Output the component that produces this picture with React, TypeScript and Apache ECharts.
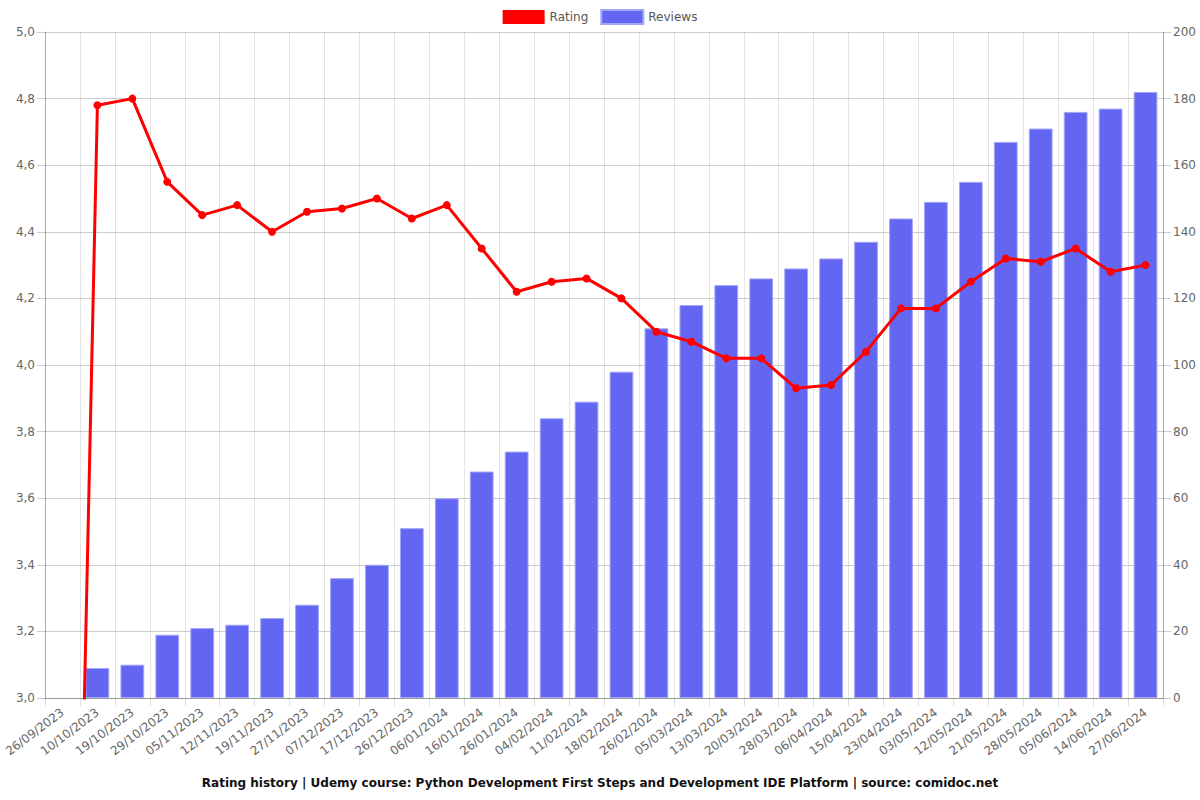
import React, { useEffect, useRef } from "react";
import * as echarts from "echarts";

const categories = [
  "26/09/2023", "10/10/2023", "19/10/2023", "29/10/2023", "05/11/2023", "12/11/2023",
  "19/11/2023", "27/11/2023", "07/12/2023", "17/12/2023", "26/12/2023", "06/01/2024",
  "16/01/2024", "26/01/2024", "04/02/2024", "11/02/2024", "18/02/2024", "26/02/2024",
  "05/03/2024", "13/03/2024", "20/03/2024", "28/03/2024", "06/04/2024", "15/04/2024",
  "23/04/2024", "03/05/2024", "12/05/2024", "21/05/2024", "28/05/2024", "05/06/2024",
  "14/06/2024", "27/06/2024",
];

const ratingValues = [
  0, 4.78, 4.8, 4.55, 4.45, 4.48, 4.4, 4.46, 4.47, 4.5, 4.44, 4.48,
  4.35, 4.22, 4.25, 4.26, 4.2, 4.1, 4.07, 4.02, 4.02, 3.93, 3.94, 4.04,
  4.17, 4.17, 4.25, 4.32, 4.31, 4.35, 4.28, 4.3,
];

const reviewValues = [
  0, 9, 10, 19, 21, 22, 24, 28, 36, 40, 51, 60,
  68, 74, 84, 89, 98, 111, 118, 124, 126, 129, 132, 137,
  144, 149, 155, 167, 171, 176, 177, 182,
];

const titleText =
  "Rating history | Udemy course: Python Development First Steps and Development IDE Platform | source: comidoc.net";

const FONT = "DejaVu Sans";

export default function App() {
  const ref = useRef<HTMLDivElement>(null);

  useEffect(() => {
    if (!ref.current) return;
    const chart = echarts.init(ref.current, null, { renderer: "svg" });
    chart.setOption({
      animation: false,
      textStyle: { fontFamily: FONT },
      title: {
        text: titleText,
        left: "center",
        bottom: 6,
        textStyle: { fontFamily: FONT, fontSize: 12, fontWeight: "bold", color: "#111" },
      },
      legend: {
        top: 4,
        left: "center",
        itemWidth: 42,
        itemHeight: 14,
        itemGap: 12,
        icon: "rect",
        textStyle: { fontFamily: FONT, fontSize: 12, color: "#555" },
        data: ["Rating", "Reviews"],
      },
      grid: { left: 45, right: 37, top: 32, bottom: 102, containLabel: false },
      xAxis: {
        type: "category",
        data: categories,
        boundaryGap: true,
        axisLine: { show: true, lineStyle: { color: "rgba(0,0,0,0.25)" } },
        axisTick: { show: true, length: 8, lineStyle: { color: "rgba(0,0,0,0.12)" } },
        axisLabel: {
          interval: 0,
          rotate: 37,
          fontFamily: FONT,
          fontSize: 12,
          color: "#666",
          margin: 13,
        },
        splitLine: { show: true, lineStyle: { color: "rgba(0,0,0,0.1)" } },
      },
      yAxis: [
        {
          type: "value",
          min: 3,
          max: 5,
          interval: 0.2,
          position: "left",
          axisLine: { show: true, lineStyle: { color: "rgba(0,0,0,0.25)" } },
          axisTick: { show: true, length: 8, lineStyle: { color: "rgba(0,0,0,0.2)" } },
          axisLabel: {
            fontFamily: FONT,
            fontSize: 12,
            color: "#666",
            margin: 10,
            formatter: (v: number) => v.toFixed(1).replace(".", ","),
          },
          splitLine: { show: true, lineStyle: { color: "rgba(0,0,0,0.2)" } },
        },
        {
          type: "value",
          min: 0,
          max: 200,
          interval: 20,
          position: "right",
          axisLine: { show: true, lineStyle: { color: "rgba(0,0,0,0.25)" } },
          axisTick: { show: true, length: 8, lineStyle: { color: "rgba(0,0,0,0.2)" } },
          axisLabel: { fontFamily: FONT, fontSize: 12, color: "#666", margin: 10 },
          splitLine: { show: false },
        },
      ],
      series: [
        {
          name: "Rating",
          type: "line",
          yAxisIndex: 0,
          data: ratingValues,
          z: 3,
          clip: true,
          symbol: "circle",
          symbolSize: 8,
          lineStyle: { color: "#ff0000", width: 3 },
          itemStyle: { color: "#ff0000" },
        },
        {
          name: "Reviews",
          type: "bar",
          yAxisIndex: 1,
          data: reviewValues.map((v) =>
            v === 0 ? { value: v, itemStyle: { borderWidth: 0, opacity: 0 } } : v
          ),
          z: 2,
          barWidth: "68%",
          itemStyle: {
            color: "#6366f1",
            borderColor: "#a3a5f7",
            borderWidth: 1,
          },
        },
      ],
    });
    return () => chart.dispose();
  }, []);

  return (
    <div
      ref={ref}
      style={{ position: "absolute", left: 0, top: 0, width: 1200, height: 800 }}
    />
  );
}
